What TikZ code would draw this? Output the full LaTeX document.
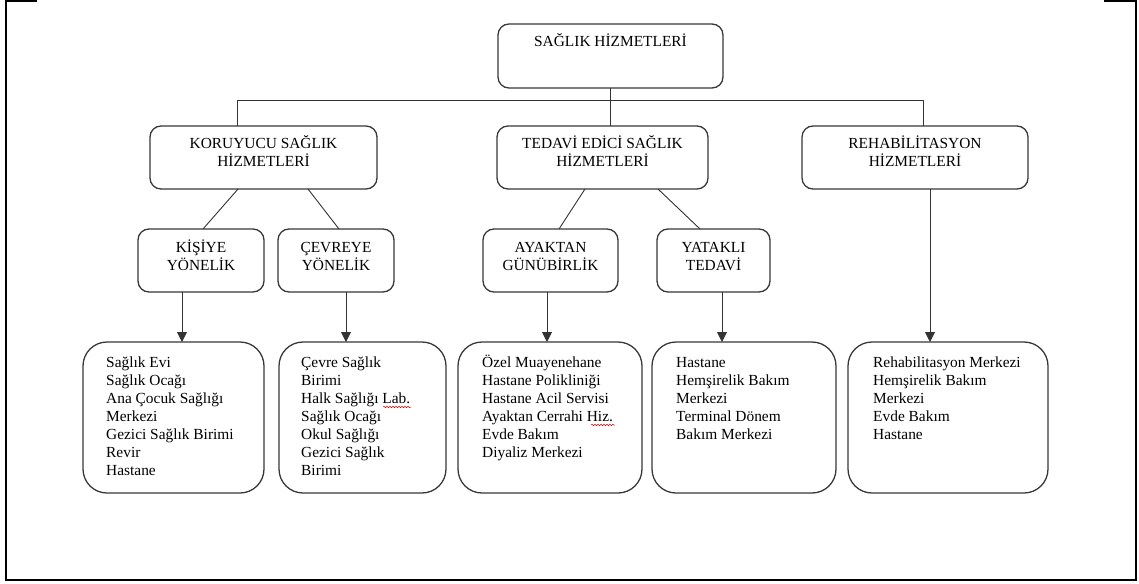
\documentclass[tikz,border=0pt]{standalone}
\usepackage{fontspec}
\setmainfont{Liberation Serif}
\usetikzlibrary{arrows.meta,decorations.pathmorphing}

\tikzset{
  box/.style={draw=black!78, line width=1.3pt, rounded corners=11pt,
              inner sep=0pt, outer sep=0pt, anchor=north west},
  listbox/.style={box, rounded corners=24pt},
  % multi-line nodes sit on the baseline of their last line
  head/.style={anchor=base, align=center, inner sep=0pt,
               font=\fontsize{15.4}{18}\selectfont},
  items/.style={anchor=base west, align=left, inner sep=0pt,
                font=\fontsize{15.4}{18}\selectfont},
  link/.style={draw=black!80, line width=0.9pt},
  arrowlink/.style={link, -{Triangle[length=10pt,width=10pt]}},
  squiggle/.style={draw=red!85!black, line width=0.5pt, decorate,
                   decoration={snake, amplitude=0.8pt, segment length=3pt}},
}

\begin{document}
\begin{tikzpicture}[x=1pt,y=-1pt]
\useasboundingbox (0,0) rectangle (1139,583);

% page frame
\draw[line width=2pt] (37,1) -- (6,1) -- (6,579.5) -- (1136,579.5) -- (1136,1) -- (1104,1);

% level 0
\node[box, minimum width=225pt, minimum height=64pt] (top) at (498,24) {};
\node[head] (topT) at ([yshift=-23pt]top.north) {SAĞLIK HİZMETLERİ};

% level 1
\node[box, minimum width=227pt, minimum height=63pt] (kor) at (150,126) {};
\node[head] (korT) at ([yshift=-40pt]kor.north) {KORUYUCU SAĞLIK\\HİZMETLERİ};
\node[box, minimum width=211pt, minimum height=63pt] (ted) at (497,126) {};
\node[head] (tedT) at ([yshift=-40pt]ted.north) {TEDAVİ EDİCİ SAĞLIK\\HİZMETLERİ};
\node[box, minimum width=226pt, minimum height=63pt] (reh) at (802,126) {};
\node[head] (rehT) at ([yshift=-40pt]reh.north) {REHABİLİTASYON\\HİZMETLERİ};

% level 2
\node[box, minimum width=126pt, minimum height=63pt] (kis) at (138,229) {};
\node[head] (kisT) at ([yshift=-41pt]kis.north) {KİŞİYE\\YÖNELİK};
\node[box, minimum width=116pt, minimum height=63pt] (cev) at (278,229) {};
\node[head] (cevT) at ([yshift=-41pt]cev.north) {ÇEVREYE\\YÖNELİK};
\node[box, minimum width=135pt, minimum height=63pt] (aya) at (483,229) {};
\node[head] (ayaT) at ([yshift=-41pt]aya.north) {AYAKTAN\\GÜNÜBİRLİK};
\node[box, minimum width=113pt, minimum height=63pt] (yat) at (657,229) {};
\node[head] (yatT) at ([yshift=-41pt]yat.north) {YATAKLI\\TEDAVİ};

% level 3
\node[listbox, minimum width=181pt, minimum height=151pt] (b1) at (83,342) {};
\node[items] (b1T) at ([xshift=23pt,yshift=-133pt]b1.north west)
  {Sağlık Evi\\Sağlık Ocağı\\Ana Çocuk Sağlığı\\Merkezi\\Gezici Sağlık Birimi\\Revir\\Hastane};
\node[listbox, minimum width=167pt, minimum height=151pt] (b2) at (279,342) {};
\node[items] (b2T) at ([xshift=22pt,yshift=-133pt]b2.north west)
  {Çevre Sağlık\\Birimi\\Halk Sağlığı Lab.\\Sağlık Ocağı\\Okul Sağlığı\\Gezici Sağlık\\Birimi};
\node[listbox, minimum width=184pt, minimum height=151pt] (b3) at (458,342) {};
\node[items] (b3T) at ([xshift=24pt,yshift=-115pt]b3.north west)
  {Özel Muayenehane\\Hastane Polikliniği\\Hastane Acil Servisi\\Ayaktan Cerrahi Hiz.\\Evde Bakım\\Diyaliz Merkezi};
\node[listbox, minimum width=184pt, minimum height=151pt] (b4) at (652,342) {};
\node[items] (b4T) at ([xshift=24pt,yshift=-97pt]b4.north west)
  {Hastane\\Hemşirelik Bakım\\Merkezi\\Terminal Dönem\\Bakım Merkezi};
\node[listbox, minimum width=200pt, minimum height=151pt] (b5) at (848,342) {};
\node[items] (b5T) at ([xshift=25pt,yshift=-97pt]b5.north west)
  {Rehabilitasyon Merkezi\\Hemşirelik Bakım\\Merkezi\\Evde Bakım\\Hastane};

% spelling marks
\draw[squiggle] (383,407) -- (411,407);
\draw[squiggle] (591,425) -- (615,425);

% bus from the root
\coordinate (busL) at (237,100);
\coordinate (busR) at (923,100);
\draw[link] (top.south) -- (top.south |- busL);
\draw[link] (busL) -- (busR);
\draw[link] (busL) -- (busL |- kor.north);
\draw[link] (top.south |- busL) -- (top.south |- ted.north);
\draw[link] (busR) -- (busR |- reh.north);

% level 1 to level 2
\draw[link] ([xshift=88pt]kor.south west) -- ([xshift=65pt]kis.north west);
\draw[link] ([xshift=158pt]kor.south west) -- ([xshift=61pt]cev.north west);
\draw[link] ([xshift=88pt]ted.south west) -- ([xshift=76pt]aya.north west);
\draw[link] ([xshift=161pt]ted.south west) -- ([xshift=43pt]yat.north west);

% arrows to the lists
\draw[arrowlink] ([xshift=44pt]kis.south west) -- ([xshift=44pt]kis.south west |- b1.north);
\draw[arrowlink] ([xshift=68pt]cev.south west) -- ([xshift=68pt]cev.south west |- b2.north);
\draw[arrowlink] ([xshift=64pt]aya.south west) -- ([xshift=64pt]aya.south west |- b3.north);
\draw[arrowlink] ([xshift=65pt]yat.south west) -- ([xshift=65pt]yat.south west |- b4.north);
\draw[arrowlink] ([xshift=128pt]reh.south west) -- ([xshift=128pt]reh.south west |- b5.north);
\end{tikzpicture}
\end{document}
